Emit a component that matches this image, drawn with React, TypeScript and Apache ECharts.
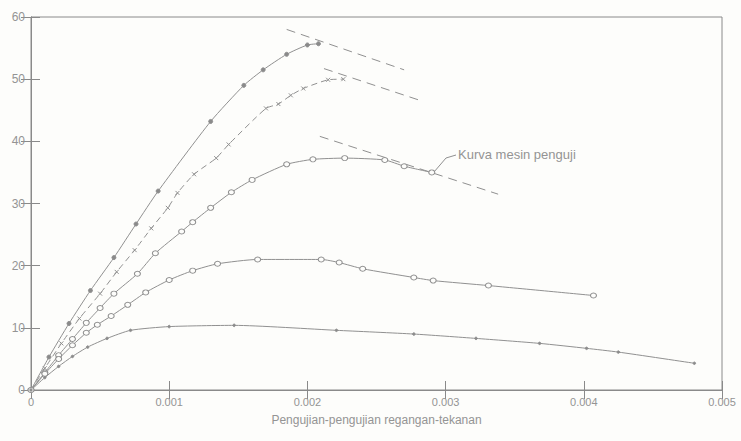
import React, { useEffect, useRef } from "react";
import * as echarts from "echarts";

const xTicks = [0, 0.001, 0.002, 0.003, 0.004, 0.005];
const yTicks = [0, 10, 20, 30, 40, 50, 60];
const xTitle = "Pengujian-pengujian regangan-tekanan";
const annotation = "Kurva mesin penguji";

const strain1 = [0, 0.00013, 0.000275, 0.00043, 0.0006, 0.00076, 0.00092, 0.0013, 0.00154, 0.00168, 0.00185, 0.002, 0.00208];
const stress1 = [0, 5.3, 10.7, 16, 21.3, 26.7, 32, 43.2, 49, 51.5, 54, 55.5, 55.7];

const strain2 = [0, 0.0001, 0.00022, 0.00035, 0.0005, 0.00062, 0.00075, 0.00087, 0.00099, 0.00106, 0.00118, 0.00134, 0.00143, 0.0017, 0.00179, 0.00188, 0.00197, 0.00215, 0.00226];
const stress2 = [0, 3.5, 7.5, 11.5, 15.5, 19, 22.5, 26, 29.3, 31.7, 34.7, 37.3, 39.5, 45.3, 46, 47.4, 48.5, 49.9, 50];

const strain3 = [0, 0.0001, 0.0002, 0.0003, 0.0004, 0.0005, 0.0006, 0.00077, 0.0009, 0.00109, 0.00117, 0.0013, 0.00145, 0.0016, 0.00185, 0.00204, 0.00227, 0.00256, 0.0027, 0.0029];
const stress3 = [0, 2.8, 5.6, 8.2, 10.8, 13.2, 15.5, 18.7, 22, 25.5, 27, 29.3, 31.8, 33.8, 36.3, 37.1, 37.3, 37, 36, 35];

const strain4 = [0, 0.0001, 0.0002, 0.0003, 0.0004, 0.00048, 0.00058, 0.0007, 0.00083, 0.001, 0.00117, 0.00135, 0.00164, 0.0021, 0.00223, 0.0024, 0.00277, 0.00291, 0.00331, 0.00407];
const stress4 = [0, 2.6, 5, 7.2, 9.2, 10.5, 11.9, 13.7, 15.7, 17.7, 19.2, 20.3, 21, 21, 20.5, 19.5, 18.1, 17.6, 16.8, 15.2];

const strain5 = [0, 0.0001, 0.0002, 0.0003, 0.00041, 0.00055, 0.00072, 0.001, 0.00147, 0.00221, 0.00277, 0.00322, 0.00368, 0.00402, 0.00425, 0.0048];
const stress5 = [0, 2, 3.8, 5.4, 6.9, 8.3, 9.6, 10.2, 10.4, 9.6, 9, 8.3, 7.5, 6.7, 6.1, 4.3];

const machine1Strain = [0.00185, 0.0027];
const machine1Stress = [58, 51.5];
const machine2Strain = [0.00212, 0.00284];
const machine2Stress = [51.7, 46.4];
const machine3Strain = [0.00209, 0.00338];
const machine3Stress = [40.8, 31.5];

const zip = (xs: number[], ys: number[]) => xs.map((x, i) => [x, ys[i]]);

const LINE = "#909090";
const AXIS = "#8a8a8a";
const TEXT = "#949494";
const FONT = "'Liberation Sans', 'DejaVu Sans', sans-serif";

export default function App() {
  const ref = useRef<HTMLDivElement>(null);
  useEffect(() => {
    if (!ref.current) return;
    const chart = echarts.init(ref.current, undefined, { renderer: "svg" });
    const curve = (data: number[][], symbol: string, size: number | number[], fill: string, dashed = false) => ({
      type: "line",
      data,
      symbol,
      symbolSize: size,
      showAllSymbol: true,
      smooth: 0.2,
      lineStyle: { color: LINE, width: 1, type: dashed ? [6, 4] : "solid" },
      itemStyle: { color: fill, borderColor: LINE, borderWidth: 1 },
      z: 3,
    });
    const machine = (data: number[][]) => ({
      type: "line",
      data,
      symbol: "none",
      lineStyle: { color: LINE, width: 1, type: [9, 6] },
      z: 2,
    });
    chart.setOption({
      animation: false,
      backgroundColor: "#fdfdfb",
      grid: { left: 31, right: 19, top: 17, bottom: 51, show: true, borderColor: AXIS, borderWidth: 1 },
      xAxis: [
        {
          type: "value",
          min: xTicks[0],
          max: xTicks[xTicks.length - 1],
          interval: 0.001,
          name: xTitle,
          nameLocation: "middle",
          nameGap: 24,
          nameTextStyle: { color: TEXT, fontSize: 12, fontFamily: FONT },
          axisLine: { show: true, lineStyle: { color: AXIS } },
          axisTick: { show: true, inside: true, length: 9, lineStyle: { color: AXIS } },
          axisLabel: {
            color: TEXT,
            fontSize: 11,
            fontFamily: FONT,
            margin: 6,
            formatter: (v: number) => (v === 0 ? "0" : v.toFixed(3)),
          },
          splitLine: { show: false },
        },
        {
          type: "value",
          position: "top",
          min: xTicks[0],
          max: xTicks[xTicks.length - 1],
          interval: 0.001,
          axisLine: { show: true, lineStyle: { color: AXIS } },
          axisTick: { show: true, inside: true, length: 9, lineStyle: { color: AXIS } },
          axisLabel: { show: false },
          splitLine: { show: false },
        },
      ],
      yAxis: [
        {
          type: "value",
          min: yTicks[0],
          max: yTicks[yTicks.length - 1],
          interval: 10,
          axisLine: { show: true, lineStyle: { color: AXIS } },
          axisTick: { show: true, inside: true, length: 9, lineStyle: { color: AXIS } },
          axisLabel: { color: TEXT, fontSize: 12, fontFamily: FONT, margin: 6 },
          splitLine: { show: false },
        },
        {
          type: "value",
          position: "right",
          min: yTicks[0],
          max: yTicks[yTicks.length - 1],
          interval: 10,
          axisLine: { show: true, lineStyle: { color: AXIS } },
          axisTick: { show: true, inside: true, length: 10, lineStyle: { color: AXIS } },
          axisLabel: { show: false },
          splitLine: { show: false },
        },
      ],
      series: [
        curve(zip(strain1, stress1), "circle", 4, "#8a8a8a"),
        curve(zip(strain2, stress2), "path://M0,0L10,10M10,0L0,10", 4, "#8a8a8a", true),
        curve(zip(strain3, stress3), "circle", [6, 5], "#fdfdfb"),
        curve(zip(strain4, stress4), "circle", [6, 5], "#fdfdfb"),
        curve(zip(strain5, stress5), "circle", 2.5, "#8a8a8a"),
        machine(zip(machine1Strain, machine1Stress)),
        machine(zip(machine2Strain, machine2Stress)),
        machine(zip(machine3Strain, machine3Stress)),
      ],
      graphic: [
        {
          type: "text",
          left: 458,
          top: 148,
          style: { text: annotation, fill: TEXT, fontSize: 13, fontFamily: FONT },
        },
        {
          type: "polyline",
          shape: { points: [[456, 155], [446, 158], [434, 172]] },
          style: { stroke: LINE, lineWidth: 1, fill: "none" },
        },
      ],
    });
    return () => chart.dispose();
  }, []);
  return <div ref={ref} style={{ position: "absolute", left: 0, top: 0, width: 741, height: 441 }} />;
}
